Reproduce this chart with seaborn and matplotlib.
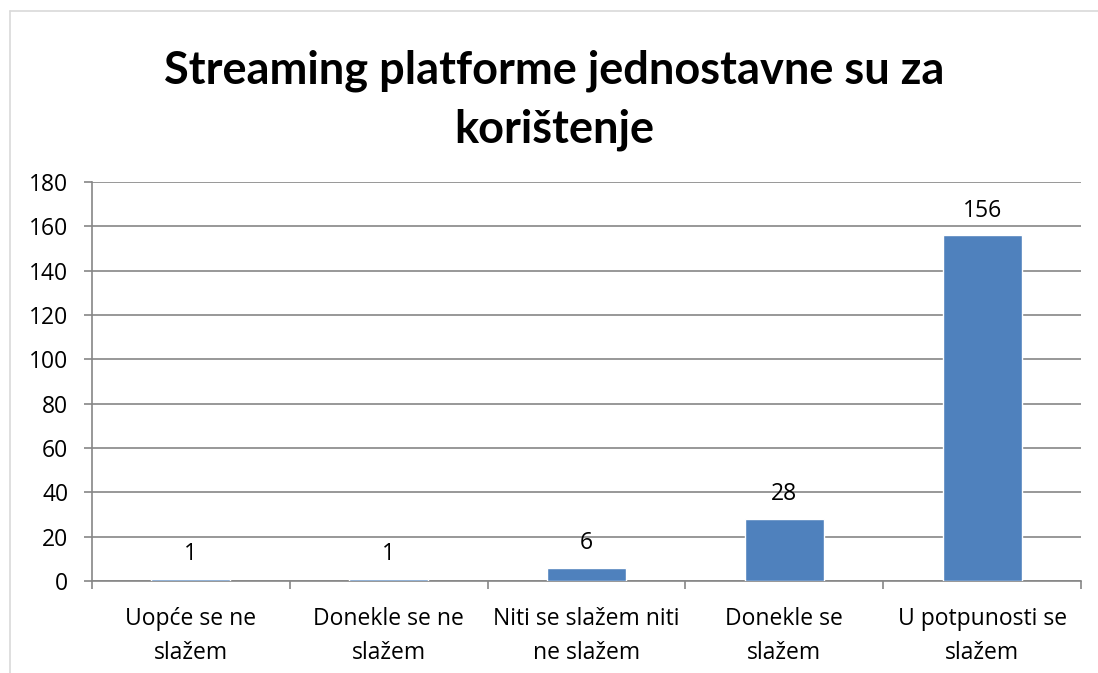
import matplotlib
matplotlib.use("Agg")
import matplotlib.pyplot as plt
import seaborn as sns
import pandas as pd
from matplotlib.lines import Line2D

categories = ["Uopće se ne\nslažem", "Donekle se ne\nslažem", "Niti se slažem niti\nne slažem",
              "Donekle se\nslažem", "U potpunosti se\nslažem"]
values = [1, 1, 6, 28, 156]
yticks = [0, 20, 40, 60, 80, 100, 120, 140, 160, 180]
title = "Streaming platforme jednostavne su za\nkorištenje"

sns.set_style("white")
plt.rcParams['font.family'] = ['Open Sans', 'DejaVu Sans']
plt.rcParams['text.color'] = 'black'

FS = 16.5
W, H = 1098, 673
fig = plt.figure(figsize=(W / 100, H / 100), dpi=100)
ax = fig.add_axes([92 / W, 1 - 581 / H, (1081 - 92) / W, (581 - 182) / H])

df = pd.DataFrame({"cat": categories, "val": values})
sns.barplot(data=df, x="cat", y="val", color="#4F81BD", saturation=1, width=0.4, ax=ax)
for p in ax.patches:
    p.set_zorder(3)

ax.set_ylim(0, 180)
ax.set_xlim(-0.5, len(categories) - 0.5)
ax.set_yticks(yticks)
ax.set_yticklabels([str(t) for t in yticks], fontsize=FS, color="black")
ax.yaxis.grid(True, color="#868686", linewidth=1.2)
ax.set_axisbelow(True)

# category boundary ticks
ax.set_xticks([i - 0.5 for i in range(len(categories) + 1)])
ax.set_xticklabels([])
ax.set_xticks(range(len(categories)), minor=True)
ax.set_xticklabels(categories, minor=True, fontsize=FS, linespacing=1.55, color="black")
ax.tick_params(axis="x", which="major", direction="out", length=6, width=1.2, color="#868686", bottom=True)
ax.tick_params(axis="x", which="minor", length=0, pad=19)
ax.tick_params(axis="y", direction="out", length=6, width=1.2, color="#868686", left=True, pad=11)
ax.set_xlabel("")
ax.set_ylabel("")

for s in ["top", "right"]:
    ax.spines[s].set_visible(False)
for s in ["left", "bottom"]:
    ax.spines[s].set_color("#868686")
    ax.spines[s].set_linewidth(1.2)

for i, v in enumerate(values):
    ax.annotate(str(v), (i, v), xytext=(0, 9), textcoords="offset points",
                ha="center", va="bottom", fontsize=FS, color="black")

fig.text(0.5 * (1 + 10 / W), 1 - 100 / H, title, ha="center", va="center",
         fontsize=32.5, fontweight="bold", linespacing=1.5, color="black",
         family=["Lato", "DejaVu Sans"])

fig.add_artist(Line2D([10 / W, 1], [1 - 11 / H, 1 - 11 / H], transform=fig.transFigure,
                      color="#D9D9D9", linewidth=1.2))
fig.add_artist(Line2D([10 / W, 10 / W], [0, 1 - 11 / H], transform=fig.transFigure,
                      color="#D9D9D9", linewidth=1.2))

fig.savefig("out.png", dpi=100)
